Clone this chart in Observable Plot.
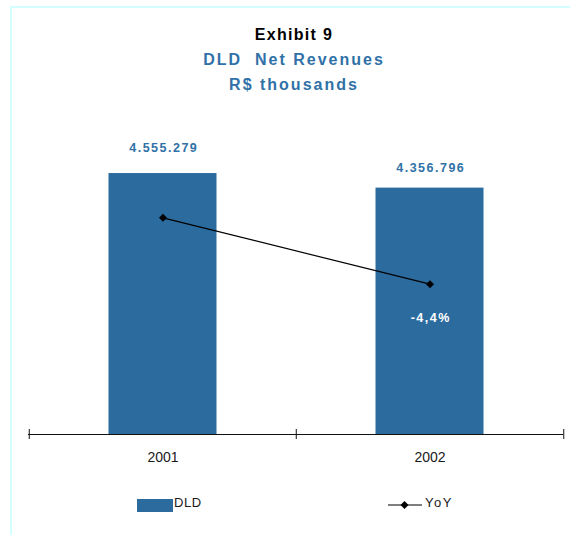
<!DOCTYPE html>
<html>
<head>
<meta charset="utf-8">
<script src="https://cdn.jsdelivr.net/npm/d3@7"></script>
<script src="https://cdn.jsdelivr.net/npm/@observablehq/plot@0.6"></script>
<style>
  html, body { margin: 0; padding: 0; background: #fff; }
  body { width: 570px; height: 535px; overflow: hidden; position: relative; font-family: "Liberation Sans", Arial, sans-serif; }
  #frame { position: absolute; left: 10px; top: 6px; width: 700px; height: 700px; border-left: 2px solid #d4ffff; border-top: 2px solid #d4ffff; }
  .title { position: absolute; left: 0; width: 588px; text-align: center; font-weight: bold; font-size: 16px; line-height: 16px; white-space: pre; }
  #t1 { top: 26.5px; color: #000; letter-spacing: 1.3px; }
  #t2 { top: 52px; color: #3071a7; letter-spacing: 2px; }
  #t3 { top: 77px; color: #3071a7; letter-spacing: 2px; }
  #chart { position: absolute; left: 0; top: 0; }
  #legend { position: absolute; left: 0; top: 490px; }
</style>
</head>
<body>
<div id="frame"></div>
<div class="title" id="t1"></div>
<div class="title" id="t2"></div>
<div class="title" id="t3"></div>
<div id="chart"></div>
<div id="legend"></div>
<script>
// ---- data ----
const titles = ["Exhibit 9", "DLD  Net Revenues", "R$ thousands"];
const years = ["2001", "2002"];
const revenues = [4555279, 4356796];
const yoy = [6.9, -4.4];            // YoY %, secondary axis (2001 point unlabeled, estimated)
const legendLabels = ["DLD", "YoY"];
const yDomain = [1000000, 5000000];  // primary axis (hidden)
const yoyDomain = [-30, 20];         // secondary axis (hidden)

const BLUE = "#2c6b9e";
const TEXTBLUE = "#3071a7";

document.getElementById("t1").textContent = titles[0];
document.getElementById("t2").textContent = titles[1];
document.getElementById("t3").textContent = titles[2];

const locale = d3.formatLocale({decimal: ",", thousands: ".", grouping: [3], currency: ["R$", ""], minus: "-"});
const fmtInt = locale.format(",d");
const fmtPct = v => locale.format(".1f")(v) + "%";

const data = years.map((year, i) => ({year, revenue: revenues[i], yoy: yoy[i]}));
const toPrimary = d3.scaleLinear(yoyDomain, yDomain);

const W = 570, H = 480, ML = 28, MR = 7, MT = 140.4, MB = 46;
const step = (W - ML - MR) / years.length;

const chart = Plot.plot({
  width: W, height: H,
  marginLeft: ML, marginRight: MR, marginTop: MT, marginBottom: MB,
  x: {domain: years, padding: 0, axis: null},
  y: {domain: yDomain, clamp: true, axis: null},
  style: {fontFamily: "'Liberation Sans', Arial, sans-serif", background: "transparent", overflow: "visible"},
  marks: [
    Plot.barY(data, {x: "year", y: "revenue", fill: BLUE, insetLeft: 79.5, insetRight: 79.5}),
    Plot.ruleY([yDomain[0]], {stroke: "#111", strokeWidth: 1}),
    Plot.ruleX(years, {x: d => d, y1: yDomain[0], y2: yDomain[0], dx: -step / 2, insetTop: -5, insetBottom: -5, stroke: "#111"}),
    Plot.ruleX(years.slice(-1), {x: d => d, y1: yDomain[0], y2: yDomain[0], dx: step / 2, insetTop: -5, insetBottom: -5, stroke: "#111"}),
    Plot.line(data, {x: "year", y: d => toPrimary(d.yoy), stroke: "#000", strokeWidth: 1.2}),
    Plot.dot(data, {x: "year", y: d => toPrimary(d.yoy), symbol: "diamond2", r: 3.6, fill: "#000", stroke: "none"}),
    Plot.text(data.slice(0, 1), {x: "year", y: "revenue", text: d => fmtInt(d.revenue), dy: -21.7, lineAnchor: "bottom", fill: TEXTBLUE, fontWeight: "bold", fontSize: 12.5}),
    Plot.text(data.slice(1), {x: "year", y: "revenue", text: d => fmtInt(d.revenue), dy: -16, lineAnchor: "bottom", fill: TEXTBLUE, fontWeight: "bold", fontSize: 12.5}),
    Plot.text(data.slice(1), {x: "year", y: d => toPrimary(d.yoy), text: d => fmtPct(d.yoy), dy: 38, lineAnchor: "bottom", fill: "#fff", fontWeight: "bold", fontSize: 12.5}),
    Plot.text(years, {x: d => d, frameAnchor: "bottom", dy: 27.5, lineAnchor: "bottom", fontSize: 14, fill: "#1a1a1a"})
  ]
});
document.getElementById("chart").appendChild(chart);

// letter-spacing for the three bold data labels (first three text marks)
const textGroups = chart.querySelectorAll('g[aria-label="text"]');
for (let i = 0; i < 3 && i < textGroups.length; i++) {
  textGroups[i].querySelectorAll("text").forEach(t => {
    t.style.letterSpacing = "1.5px";
    t.setAttribute("dx", "0.75");
  });
}

// ---- legend ----
const leg = d3.select("#legend").append("svg").attr("width", 570).attr("height", 30)
  .style("font-family", "'Liberation Sans', Arial, sans-serif");
leg.append("rect").attr("x", 137).attr("y", 9).attr("width", 36).attr("height", 13).attr("fill", BLUE);
leg.append("text").attr("x", 174).attr("y", 17).attr("font-size", 13).attr("fill", "#1a1a1a")
  .style("letter-spacing", "0.6px").text(legendLabels[0]);
leg.append("line").attr("x1", 388).attr("x2", 422).attr("y1", 15).attr("y2", 15).attr("stroke", "#000").attr("stroke-width", 1.2);
leg.append("path").attr("transform", "translate(404.5,15)").attr("d", d3.symbol(d3.symbolDiamond2, Math.PI * 3.6 * 3.6)()).attr("fill", "#000");
leg.append("text").attr("x", 425).attr("y", 17).attr("font-size", 13).attr("fill", "#1a1a1a")
  .style("letter-spacing", "1.5px").text(legendLabels[1]);
</script>
</body>
</html>
